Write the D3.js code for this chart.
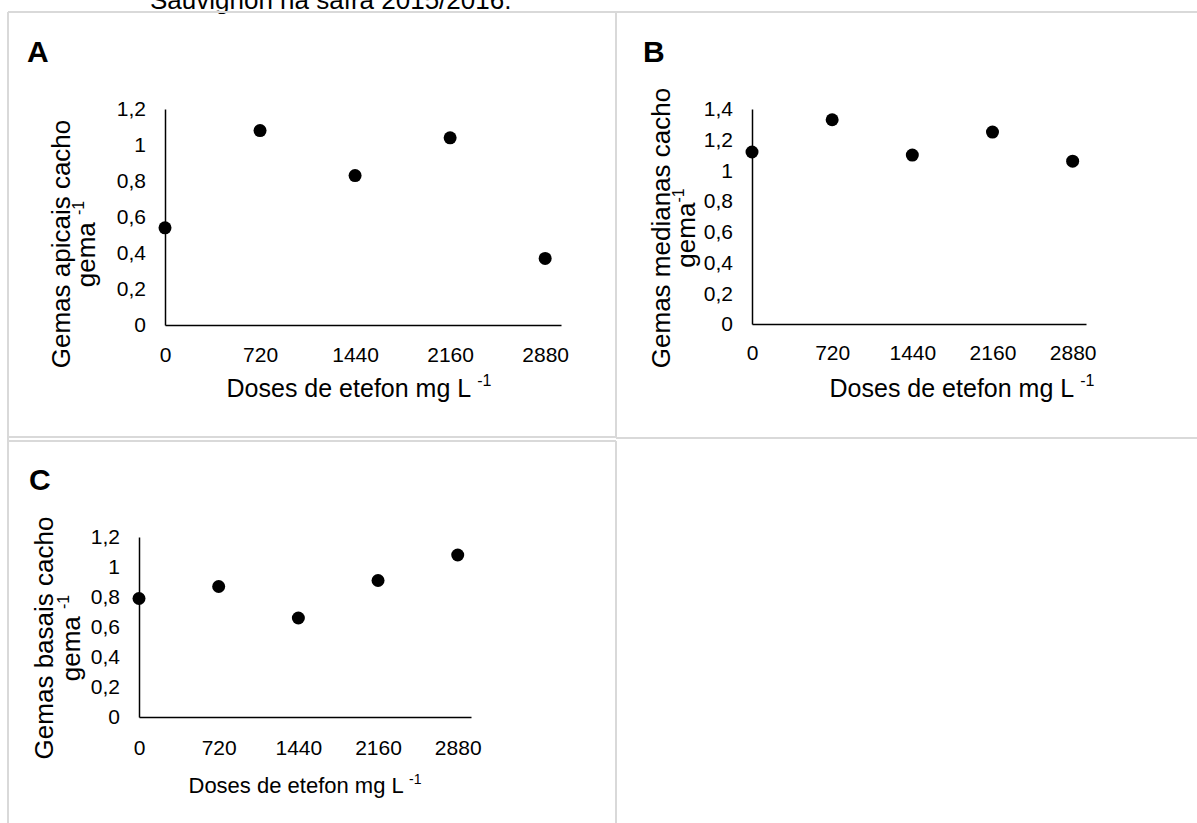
<!DOCTYPE html>
<html>
<head>
<meta charset="utf-8">
<script src="https://cdn.jsdelivr.net/npm/d3@7"></script>
<style>
  body { margin: 0; background: #fff; }
  svg { display: block; font-family: "Liberation Sans", Arial, sans-serif; }
</style>
</head>
<body>
<svg id="chart" width="1197" height="823"></svg>
<script>
// doses de etefon (mg L-1)
var doses = [0, 720, 1440, 2160, 2880];
var xTicks = [0, 720, 1440, 2160, 2880];

// cachos por gema
var apicais = [0.54, 1.08, 0.83, 1.04, 0.37];
var medianas = [1.12, 1.33, 1.10, 1.25, 1.06];
var basais = [0.79, 0.87, 0.66, 0.91, 1.08];

var yTicks12 = [0, 0.2, 0.4, 0.6, 0.8, 1, 1.2];
var yTicks14 = [0, 0.2, 0.4, 0.6, 0.8, 1, 1.2, 1.4];

var svg = d3.select("#chart");
var ptBR = d3.formatLocale({decimal: ",", thousands: ".", grouping: [3], currency: ["", ""]});
var fmt = ptBR.format(".1~f");

// caption cut off at the top of the page
svg.append("text")
    .attr("x", 150).attr("y", 9)
    .style("font-size", "26px")
    .text("Sauvignon na safra 2015/2016.");

// table cell borders
var grid = svg.append("g").attr("stroke", "#d9d9d9").attr("stroke-width", 2);
[[8, 12, 1197, 12], [8, 12, 8, 823], [616, 12, 616, 437], [616, 441, 616, 823],
 [8, 437, 616, 437], [616, 438, 1197, 438], [8, 441, 616, 441]].forEach(function(l) {
  grid.append("line").attr("x1", l[0]).attr("y1", l[1]).attr("x2", l[2]).attr("y2", l[3]);
});

var panels = [
  {letter: "A", lx: 27, ly: 62, values: apicais, yTicks: yTicks12, ymax: 1.2,
   x0: 165, x1: 561, y0: 325, y1: 109, pad: 22,
   ytitle: ["Gemas apicais cacho", "gema "], tx: [70, 95], tcy: 244,
   xtx: 359, xty: 397, xfs: 25},
  {letter: "B", lx: 643, ly: 62, values: medianas, yTicks: yTicks14, ymax: 1.4,
   x0: 752, x1: 1086, y0: 324, y1: 109, pad: 21,
   ytitle: ["Gemas medianas cacho", "gema"], tx: [670, 695], tcy: 228,
   xtx: 962, xty: 397, xfs: 25},
  {letter: "C", lx: 29, ly: 490, values: basais, yTicks: yTicks12, ymax: 1.2,
   x0: 139, x1: 471, y0: 717, y1: 537, pad: 23,
   ytitle: ["Gemas basais cacho", "gema "], tx: [53, 80], tcy: 638,
   xtx: 305, xty: 793, xfs: 22}
];

panels.forEach(function(p) {
  var x = d3.scaleLinear().domain([0, 3000]).range([p.x0, p.x1]);
  var y = d3.scaleLinear().domain([0, p.ymax]).range([p.y0, p.y1]);
  var g = svg.append("g");

  g.append("text")
      .attr("x", p.lx).attr("y", p.ly)
      .style("font-size", "30px").attr("font-weight", "bold")
      .text(p.letter);

  var xAxis = g.append("g")
      .attr("transform", "translate(0," + p.y0 + ")")
      .call(d3.axisBottom(x).tickValues(xTicks).tickSize(0).tickPadding(p.pad).tickFormat(d3.format("d")));
  var yAxis = g.append("g")
      .attr("transform", "translate(" + p.x0 + ",0)")
      .call(d3.axisLeft(y).tickValues(p.yTicks).tickSize(0).tickPadding(19).tickFormat(fmt));

  [xAxis, yAxis].forEach(function(a) {
    a.select(".domain").attr("stroke", "#000").attr("stroke-width", 1.5);
    a.selectAll("text").style("font-size", "21px").attr("fill", "#000")
        .style("font-family", "Liberation Sans, Arial, sans-serif");
  });

  // x axis title
  var xt = g.append("text")
      .attr("x", p.xtx).attr("y", p.xty)
      .attr("text-anchor", "middle")
      .style("font-size", p.xfs + "px");
  xt.append("tspan").text("Doses de etefon mg L ");
  xt.append("tspan").style("font-size", Math.round(p.xfs * 0.64) + "px")
      .attr("dy", -Math.round(p.xfs * 0.42)).text("-1");

  // y axis title (two lines)
  p.ytitle.forEach(function(t, i) {
    var yt = g.append("text")
        .attr("transform", "translate(" + p.tx[i] + "," + p.tcy + ") rotate(-90)")
        .attr("text-anchor", "middle")
        .style("font-size", "26px");
    yt.append("tspan").text(t);
    if (i === 1) yt.append("tspan").style("font-size", "16px").attr("dy", -11).text("-1");
  });

  g.selectAll("circle")
      .data(doses)
      .enter().append("circle")
      .attr("cx", function(d) { return x(d); })
      .attr("cy", function(d, i) { return y(p.values[i]); })
      .attr("r", 6.5)
      .attr("fill", "#000");
});
</script>
</body>
</html>
